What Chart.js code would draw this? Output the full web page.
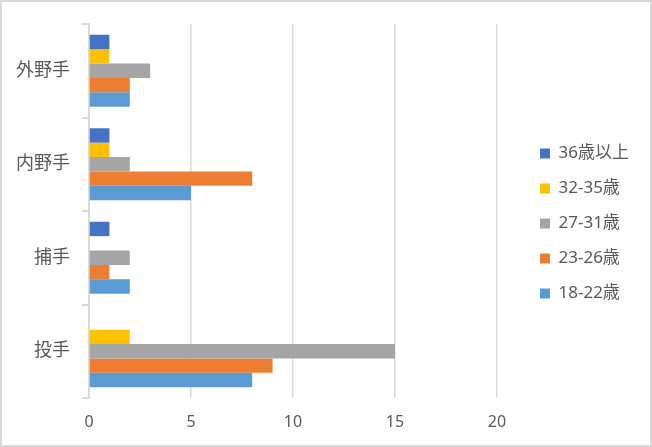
<!DOCTYPE html>
<html>
<head>
<meta charset="utf-8">
<script src="https://cdn.jsdelivr.net/npm/chart.js@4"></script>
<style>
  html, body { margin: 0; padding: 0; background: #fff; }
  canvas { display: block; }
</style>
</head>
<body>
<canvas id="chart" width="652" height="447"></canvas>
<script>
// ---------------------------------------------------------------------------
// DATA
// ---------------------------------------------------------------------------
const positions = ['外野手', '内野手', '捕手', '投手'];
const ageGroups = ['36歳以上', '32-35歳', '27-31歳', '23-26歳', '18-22歳'];
const age36plus = [1, 1, 1, 0];
const age32to35 = [1, 1, 0, 2];
const age27to31 = [3, 2, 2, 15];
const age23to26 = [2, 8, 1, 9];
const age18to22 = [2, 5, 2, 8];
const xTicks = [0, 5, 10, 15, 20];

const seriesValues = [age36plus, age32to35, age27to31, age23to26, age18to22];
const seriesColors = ['#4472C4', '#FFC000', '#A5A5A5', '#ED7D31', '#5B9BD5'];

const TEXT = '#595959';
const GRID = '#d9d9d9';
const FONT = "'Noto Sans', 'Noto Sans CJK JP', sans-serif";

// fixed legend width so the plot keeps its place
const legendWidthPlugin = {
    id: 'legendWidth',
    beforeUpdate(chart) {
        const lg = chart.legend;
        if (lg && !lg._fixedWidth) {
            const fit = lg.fit.bind(lg);
            lg.fit = function () { fit(); this.width = 130; };
            lg._fixedWidth = true;
        }
    }
};

// light frame around the whole chart
const framePlugin = {
    id: 'frame',
    afterDraw(chart) {
        const ctx = chart.ctx;
        ctx.save();
        ctx.strokeStyle = GRID;
        ctx.lineWidth = 2;
        ctx.strokeRect(1, 1, chart.width - 2, chart.height - 2);
        ctx.restore();
    }
};

new Chart(document.getElementById('chart').getContext('2d'), {
    type: 'bar',
    data: {
        labels: positions,
        datasets: ageGroups.map((name, i) => ({
            label: name,
            data: seriesValues[i],
            backgroundColor: seriesColors[i],
            barPercentage: 1,
            categoryPercentage: 0.77
        }))
    },
    options: {
        indexAxis: 'y',
        responsive: false,
        animation: false,
        devicePixelRatio: 1,
        layout: { padding: 0 },
        plugins: {
            tooltip: { enabled: false },
            legend: {
                position: 'right',
                align: 'center',
                labels: {
                    boxWidth: 10,
                    boxHeight: 10,
                    padding: 18,
                    color: TEXT,
                    font: { family: FONT, size: 17 }
                }
            }
        },
        scales: {
            x: {
                min: 0,
                max: 20,
                afterBuildTicks: s => { s.ticks = xTicks.map(v => ({ value: v })); },
                afterFit: s => { s.height = 49; },
                ticks: { color: TEXT, padding: 15, font: { family: FONT, size: 16 } },
                grid: { color: GRID, lineWidth: 1.5, drawTicks: false },
                border: { display: false }
            },
            // empty top space above the plot
            x2: {
                type: 'linear',
                position: 'top',
                afterFit: s => { s.height = 24; },
                ticks: { display: false },
                grid: { display: false },
                border: { display: false }
            },
            y: {
                afterFit: s => { s.width = 89; },
                ticks: { color: TEXT, padding: 12, font: { family: FONT, size: 18 } },
                grid: {
                    offset: true,
                    drawOnChartArea: false,
                    drawTicks: true,
                    tickLength: 7,
                    color: GRID,
                    lineWidth: 2
                },
                border: { display: true, color: GRID, width: 2 }
            },
            // empty gap between plot and legend
            y2: {
                type: 'category',
                position: 'right',
                afterFit: s => { s.width = 25; },
                ticks: { display: false },
                grid: { display: false },
                border: { display: false }
            }
        }
    },
    plugins: [legendWidthPlugin, framePlugin]
});
</script>
</body>
</html>
